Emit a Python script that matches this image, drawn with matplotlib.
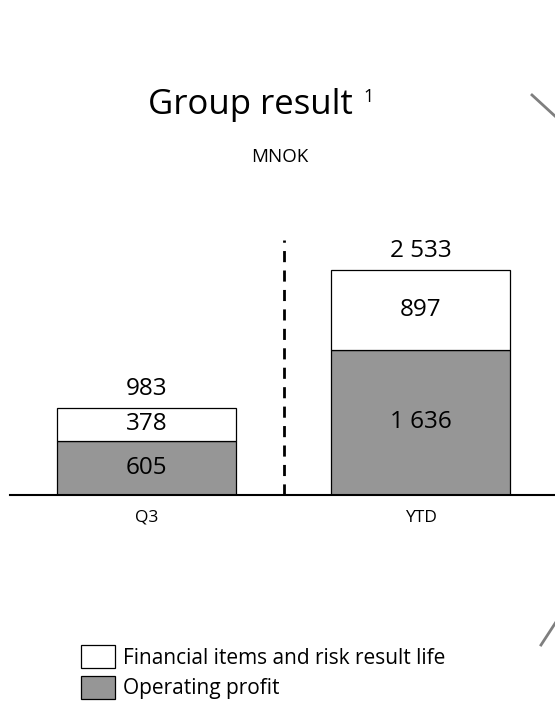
import matplotlib
matplotlib.use("Agg")
import matplotlib.pyplot as plt
from matplotlib.lines import Line2D
from matplotlib.patches import Rectangle

plt.rcParams["font.family"] = ["Open Sans", "DejaVu Sans"]

categories = ["Q3", "YTD"]
operating_profit = [605, 1636]
financial_items = [378, 897]
series_names = ["Financial items and risk result life", "Operating profit"]
title = "Group result"
unit = "MNOK"

W, H = 555, 709
fig = plt.figure(figsize=(W / 100, H / 100), dpi=100)


def fx(px):
    return px / W


def fy(py):
    return 1 - py / H


def fmt(v):
    return f"{v:,}".replace(",", " ")


# plotting area: baseline at y=495 px, spans x 10..555 px
ax = fig.add_axes([fx(10), fy(495), fx(545), fy(200) - fy(495)])
px_per_unit = 0.08883
ax.set_ylim(0, 295 / px_per_unit)
ax.set_xlim(-136.5 / 274, 1 + 134.5 / 274)
for s in ["top", "right", "left"]:
    ax.spines[s].set_visible(False)
ax.spines["bottom"].set_linewidth(1.5)
ax.set_yticks([])
ax.set_xticks([])

grey = "#969696"
xs = range(len(categories))
width = 179 / 274
ax.bar(xs, operating_profit, width, color=grey, edgecolor="black", linewidth=0.9)
ax.bar(xs, financial_items, width, bottom=operating_profit, color="white",
       edgecolor="black", linewidth=0.9)

label_fs = 17.5
for x, op, fi in zip(xs, operating_profit, financial_items):
    total = op + fi
    ax.text(x, op / 2, fmt(op), ha="center", va="center", fontsize=label_fs)
    ax.text(x, op + fi / 2, fmt(fi), ha="center", va="center", fontsize=label_fs)
    ax.text(x, total + 19 / px_per_unit, fmt(total), ha="center",
            va="center", fontsize=label_fs)
    ax.text(x, -23 / px_per_unit, categories[x], ha="center", va="center",
            fontsize=12.5)

# dashed separator between quarter and year-to-date
ax.plot([0.5, 0.5], [0, 2871], color="black", linestyle=(0, (4, 3)), linewidth=2)

# title and unit
fig.text(fx(250), fy(105), title, ha="center", va="center", fontsize=25)
fig.text(fx(369), fy(97), "1", ha="center", va="center", fontsize=13)
fig.text(fx(280), fy(157), unit, ha="center", va="center", fontsize=13.5)

# legend
handles = [
    Rectangle((0, 0), 1, 1, facecolor="white", edgecolor="black", linewidth=0.9),
    Rectangle((0, 0), 1, 1, facecolor=grey, edgecolor="black", linewidth=0.9),
]
fig.legend(handles, series_names, loc="upper left",
           bbox_to_anchor=(fx(73), fy(637)), frameon=False, fontsize=15,
           handlelength=1.6, handleheight=1.3, handletextpad=0.4,
           labelspacing=0.35, borderaxespad=0)

# decorative arc segments on the right edge
for (x0, y0), (x1, y1) in [((532, 95), (556, 117)), ((541, 645), (556, 622))]:
    fig.add_artist(Line2D([fx(x0), fx(x1)], [fy(y0), fy(y1)],
                          color="#7f7f7f", linewidth=2, transform=fig.transFigure))

fig.savefig("out.png", dpi=100)
